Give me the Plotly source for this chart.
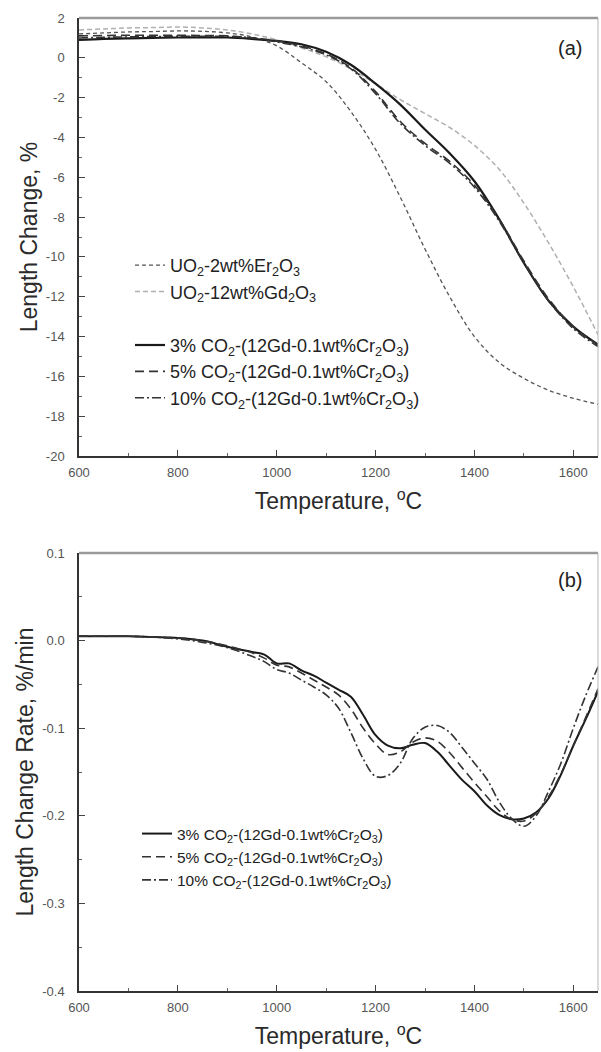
import plotly.graph_objects as go

# ---------------- data ----------------
temp_a = [600, 650, 700, 750, 800, 850, 900, 950, 1000, 1050, 1100, 1150,
          1200, 1250, 1300, 1350, 1400, 1450, 1500, 1550, 1600, 1650]
er_2wt = [1.2, 1.25, 1.3, 1.32, 1.35, 1.33, 1.25, 1.05, 0.6, -0.25, -1.2, -2.7,
          -4.6, -7.0, -9.6, -12.0, -14.0, -15.3, -16.1, -16.7, -17.1, -17.4]
gd_12wt = [1.4, 1.45, 1.5, 1.52, 1.55, 1.5, 1.4, 1.2, 0.9, 0.5, 0.05, -0.55,
           -1.3, -2.1, -2.8, -3.5, -4.4, -5.6, -7.3, -9.3, -11.5, -13.9]
co2_3_a = [0.9, 0.95, 0.98, 1.0, 1.02, 1.03, 1.02, 0.95, 0.85, 0.68, 0.3, -0.35,
           -1.3, -2.35, -3.6, -4.8, -6.2, -8.1, -10.3, -12.2, -13.5, -14.4]
co2_5_a = [1.1, 1.12, 1.13, 1.13, 1.13, 1.12, 1.1, 1.0, 0.85, 0.6, 0.2, -0.5,
           -1.7, -3.2, -4.3, -5.2, -6.4, -8.1, -10.2, -12.1, -13.5, -14.4]
co2_10_a = [1.0, 1.03, 1.05, 1.07, 1.08, 1.08, 1.08, 1.0, 0.8, 0.55, 0.15, -0.55,
            -1.8, -3.3, -4.4, -5.3, -6.5, -8.2, -10.3, -12.2, -13.6, -14.5]

temp_b = [600, 650, 700, 750, 800, 850, 900, 950, 975, 1000, 1025, 1050, 1075,
          1100, 1125, 1150, 1175, 1200, 1225, 1250, 1275, 1300, 1325, 1350,
          1375, 1400, 1425, 1450, 1475, 1500, 1525, 1550, 1575, 1600, 1625, 1650]
co2_3_b = [0.005, 0.005, 0.005, 0.004, 0.003, 0.0, -0.007, -0.013, -0.016, -0.026,
           -0.026, -0.034, -0.040, -0.048, -0.056, -0.064, -0.085, -0.108, -0.120,
           -0.123, -0.119, -0.117, -0.127, -0.143, -0.159, -0.172, -0.188, -0.199,
           -0.204, -0.203, -0.196, -0.180, -0.153, -0.120, -0.090, -0.058]
co2_5_b = [0.005, 0.005, 0.005, 0.004, 0.003, 0.0, -0.006, -0.014, -0.020, -0.028,
           -0.030, -0.037, -0.045, -0.053, -0.062, -0.078, -0.100, -0.118, -0.130,
           -0.127, -0.116, -0.111, -0.115, -0.128, -0.145, -0.162, -0.178, -0.194,
           -0.204, -0.206, -0.197, -0.178, -0.152, -0.120, -0.088, -0.055]
co2_10_b = [0.005, 0.005, 0.005, 0.004, 0.002, -0.002, -0.008, -0.018, -0.024, -0.033,
            -0.037, -0.045, -0.053, -0.062, -0.077, -0.105, -0.135, -0.155, -0.154,
            -0.140, -0.112, -0.099, -0.097, -0.105, -0.122, -0.140, -0.158, -0.184,
            -0.203, -0.212, -0.200, -0.172, -0.140, -0.100, -0.063, -0.030]

# tick labels
x_ticks = [600, 800, 1000, 1200, 1400, 1600]
x_ticklabels = ["600", "800", "1000", "1200", "1400", "1600"]
ya_ticks = [-20, -18, -16, -14, -12, -10, -8, -6, -4, -2, 0, 2]
ya_ticklabels = ["-20", "-18", "-16", "-14", "-12", "-10", "-8", "-6", "-4", "-2", "0", "2"]
yb_ticks = [-0.4, -0.3, -0.2, -0.1, 0.0, 0.1]
yb_ticklabels = ["-0.4", "-0.3", "-0.2", "-0.1", "0.0", "0.1"]

label_er = "UO<sub>2</sub>-2wt%Er<sub>2</sub>O<sub>3</sub>"
label_gd = "UO<sub>2</sub>-12wt%Gd<sub>2</sub>O<sub>3</sub>"
label_3 = "3% CO<sub>2</sub>-(12Gd-0.1wt%Cr<sub>2</sub>O<sub>3</sub>)"
label_5 = "5% CO<sub>2</sub>-(12Gd-0.1wt%Cr<sub>2</sub>O<sub>3</sub>)"
label_10 = "10% CO<sub>2</sub>-(12Gd-0.1wt%Cr<sub>2</sub>O<sub>3</sub>)"

FONT = "Liberation Sans, Arial, sans-serif"
W, H = 601, 1052

def px_x(p):
    return p / W

def px_y(p):
    return 1 - p / H

fig = go.Figure()

sp = "spline"
# panel (a)
fig.add_trace(go.Scatter(x=temp_a, y=er_2wt, name=label_er, mode="lines", line_shape=sp,
                         line=dict(color="#555555", width=1.3, dash="4px,3px"),
                         xaxis="x", yaxis="y", legendgroup="g1", legend="legend"))
fig.add_trace(go.Scatter(x=temp_a, y=gd_12wt, name=label_gd, mode="lines", line_shape=sp,
                         line=dict(color="#b0b0b0", width=1.5, dash="5px,3px"),
                         xaxis="x", yaxis="y", legendgroup="g1", legend="legend"))
fig.add_trace(go.Scatter(x=temp_a, y=co2_3_a, name=label_3, mode="lines", line_shape=sp,
                         line=dict(color="#1a1a1a", width=2.2),
                         xaxis="x", yaxis="y", legendgroup="g2", legend="legend"))
fig.add_trace(go.Scatter(x=temp_a, y=co2_5_a, name=label_5, mode="lines", line_shape=sp,
                         line=dict(color="#333333", width=1.6, dash="9px,5px"),
                         xaxis="x", yaxis="y", legendgroup="g2", legend="legend"))
fig.add_trace(go.Scatter(x=temp_a, y=co2_10_a, name=label_10, mode="lines", line_shape=sp,
                         line=dict(color="#333333", width=1.6, dash="9px,3px,2px,3px"),
                         xaxis="x", yaxis="y", legendgroup="g2", legend="legend"))
# panel (b)
fig.add_trace(go.Scatter(x=temp_b, y=co2_3_b, name=label_3, mode="lines", line_shape=sp,
                         line=dict(color="#1a1a1a", width=2.0),
                         xaxis="x2", yaxis="y2", legend="legend2"))
fig.add_trace(go.Scatter(x=temp_b, y=co2_5_b, name=label_5, mode="lines", line_shape=sp,
                         line=dict(color="#333333", width=1.6, dash="9px,5px"),
                         xaxis="x2", yaxis="y2", legend="legend2"))
fig.add_trace(go.Scatter(x=temp_b, y=co2_10_b, name=label_10, mode="lines", line_shape=sp,
                         line=dict(color="#333333", width=1.6, dash="9px,3px,2px,3px"),
                         xaxis="x2", yaxis="y2", legend="legend2"))

xdom = [px_x(79), px_x(598)]
tickfont = dict(family=FONT, size=13, color="#555555")
titlefont = dict(family=FONT, size=23, color="#2a2a2a")

def xax(anchor):
    return dict(domain=xdom, range=[600, 1650], tickmode="array",
                tickvals=x_ticks, ticktext=x_ticklabels, automargin=False,
                ticks="inside", ticklen=6, tickwidth=1.2, tickcolor="#444",
                minor=dict(ticks="inside", ticklen=3, tickmode="linear", tick0=600,
                           dtick=100, tickcolor="#666"),
                showline=True, linecolor="#333333", linewidth=1.5,
                showgrid=False, zeroline=False, tickfont=tickfont,
                ticklabelstandoff=4, anchor=anchor,
                title=dict(text="Temperature, <sup>o</sup>C", font=titlefont, standoff=14))

def yax(dom, rng, tv, tt, t0, mdt, title, anchor):
    return dict(domain=dom, range=rng, tickmode="array", tickvals=tv, ticktext=tt,
                automargin=False,
                ticks="inside", ticklen=6, tickwidth=1.2, tickcolor="#444",
                minor=dict(ticks="inside", ticklen=3, tickmode="linear", tick0=t0,
                           dtick=mdt, tickcolor="#666"),
                showline=True, linecolor="#333333", linewidth=1.5,
                showgrid=False, zeroline=False, tickfont=tickfont,
                ticklabelstandoff=10, anchor=anchor,
                title=dict(text=title, font=titlefont, standoff=2))

fig.update_layout(
    width=W, height=H,
    margin=dict(l=0, r=0, t=0, b=0, autoexpand=False),
    paper_bgcolor="white", plot_bgcolor="white",
    xaxis=xax("y"),
    xaxis2=xax("y2"),
    yaxis=yax([px_y(456), px_y(18)], [-20, 2], ya_ticks, ya_ticklabels, -20, 1,
              "Length Change, %", "x"),
    yaxis2=yax([px_y(991), px_y(553)], [-0.4, 0.1], yb_ticks, yb_ticklabels, -0.4, 0.05,
               "Length Change Rate, %/min", "x2"),
    legend=dict(x=px_x(130), y=px_y(247), xanchor="left", yanchor="top",
                bgcolor="rgba(0,0,0,0)", traceorder="grouped", tracegroupgap=27,
                font=dict(family=FONT, size=18, color="#222222")),
    legend2=dict(x=px_x(137), y=px_y(817), xanchor="left", yanchor="top",
                 bgcolor="rgba(0,0,0,0)",
                 font=dict(family=FONT, size=15.5, color="#222222")),
    showlegend=True,
)

# frame: top and right borders (grey)
for xr, yr in (("x domain", "y domain"), ("x2 domain", "y2 domain")):
    fig.add_shape(type="line", xref=xr, yref=yr, x0=0, x1=1, y0=1, y1=1,
                  line=dict(color="#9a9a9a", width=2.5))
    fig.add_shape(type="line", xref=xr, yref=yr, x0=1, x1=1, y0=0, y1=1,
                  line=dict(color="#b5b5b5", width=1))

fig.add_annotation(text="(a)", xref="x domain", yref="y domain", x=0.946, y=0.931,
                   xanchor="center", yanchor="middle",
                   showarrow=False, font=dict(family=FONT, size=20, color="#222"))
fig.add_annotation(text="(b)", xref="x2 domain", yref="y2 domain", x=0.946, y=0.938,
                   xanchor="center", yanchor="middle",
                   showarrow=False, font=dict(family=FONT, size=20, color="#222"))

fig.write_html("out.html")
